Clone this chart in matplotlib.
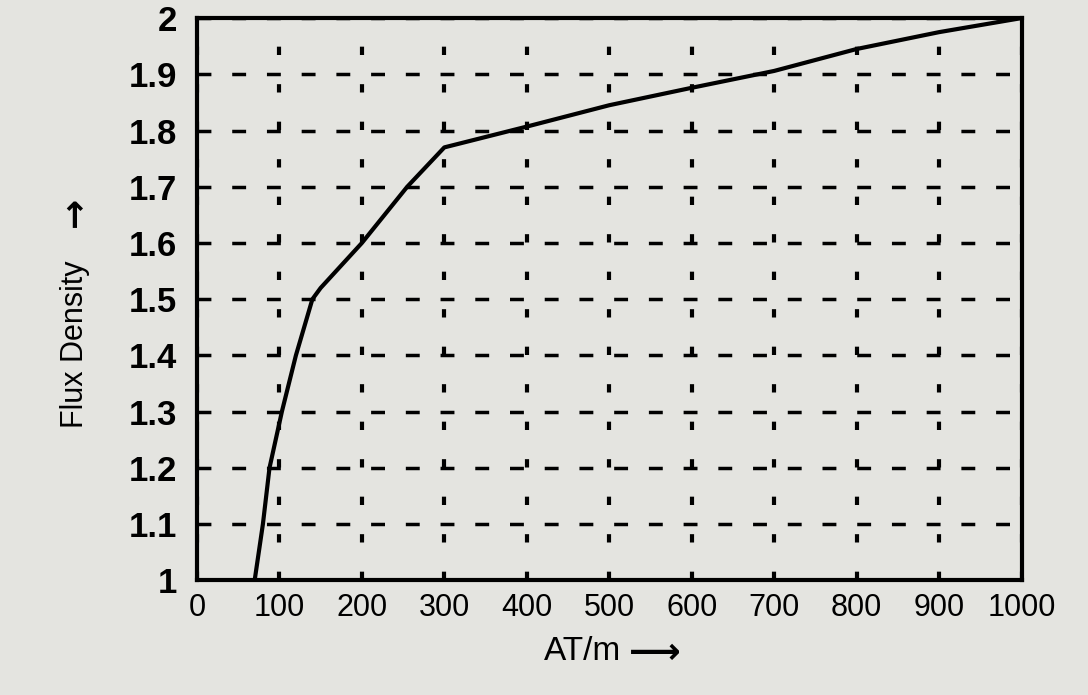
import matplotlib
matplotlib.use("Agg")
import matplotlib.pyplot as plt

# Curva de magnetização (B-H)
at_m = [70, 80, 88, 103, 120, 140, 150, 200, 255, 300, 400, 500, 600, 700, 800, 900, 1000]
flux = [1.0, 1.1, 1.2, 1.3, 1.4, 1.5, 1.52, 1.6, 1.7, 1.77, 1.807, 1.845, 1.876, 1.906, 1.945, 1.975, 2.0]

x_ticks = [0, 100, 200, 300, 400, 500, 600, 700, 800, 900, 1000]
y_ticks = [1, 1.1, 1.2, 1.3, 1.4, 1.5, 1.6, 1.7, 1.8, 1.9, 2]
y_labels = ["1", "1.1", "1.2", "1.3", "1.4", "1.5", "1.6", "1.7", "1.8", "1.9", "2"]

plt.rcParams['font.family'] = ['Liberation Sans', 'DejaVu Sans']

fundo = '#e4e4e0'
fig = plt.figure(figsize=(10.88, 6.95), dpi=100, facecolor=fundo)
ax = fig.add_axes([0.181, 0.165, 0.758, 0.809])
ax.set_facecolor(fundo)

ax.plot(at_m, flux, color='black', linewidth=3)

ax.set_xlim(0, 1000)
ax.set_ylim(1, 2)
ax.set_xticks(x_ticks)
ax.set_yticks(y_ticks)
ax.set_yticklabels(y_labels)
ax.tick_params(axis='x', direction='in', length=5, width=1.5, labelsize=22, pad=9, colors='black')
ax.tick_params(axis='y', length=0, labelsize=25, pad=14)
for lbl in ax.get_yticklabels():
    lbl.set_fontweight('bold')

# grade tracejada
ax.xaxis.grid(True, color='black', linestyle=(0, (2, 7)), linewidth=3)
ax.yaxis.grid(True, color='black', linestyle=(0, (4, 6)), linewidth=2.5)

for s in ax.spines.values():
    s.set_linewidth(3)
    s.set_color('black')

fig.text(0.069, 0.505, "Flux Density", rotation=90, ha='center', va='center', fontsize=22)
fig.text(0.069, 0.695, "\u2192", rotation=90, ha='center', va='center', fontsize=26,
         family='DejaVu Sans', fontweight='bold')
fig.text(0.535, 0.063, "AT/m", ha='center', va='center', fontsize=24)
fig.text(0.602, 0.060, "\u27f6", ha='center', va='center', fontsize=26,
         family='DejaVu Sans', fontweight='bold')

plt.savefig("out.png", dpi=100, facecolor=fundo)
plt.close()
